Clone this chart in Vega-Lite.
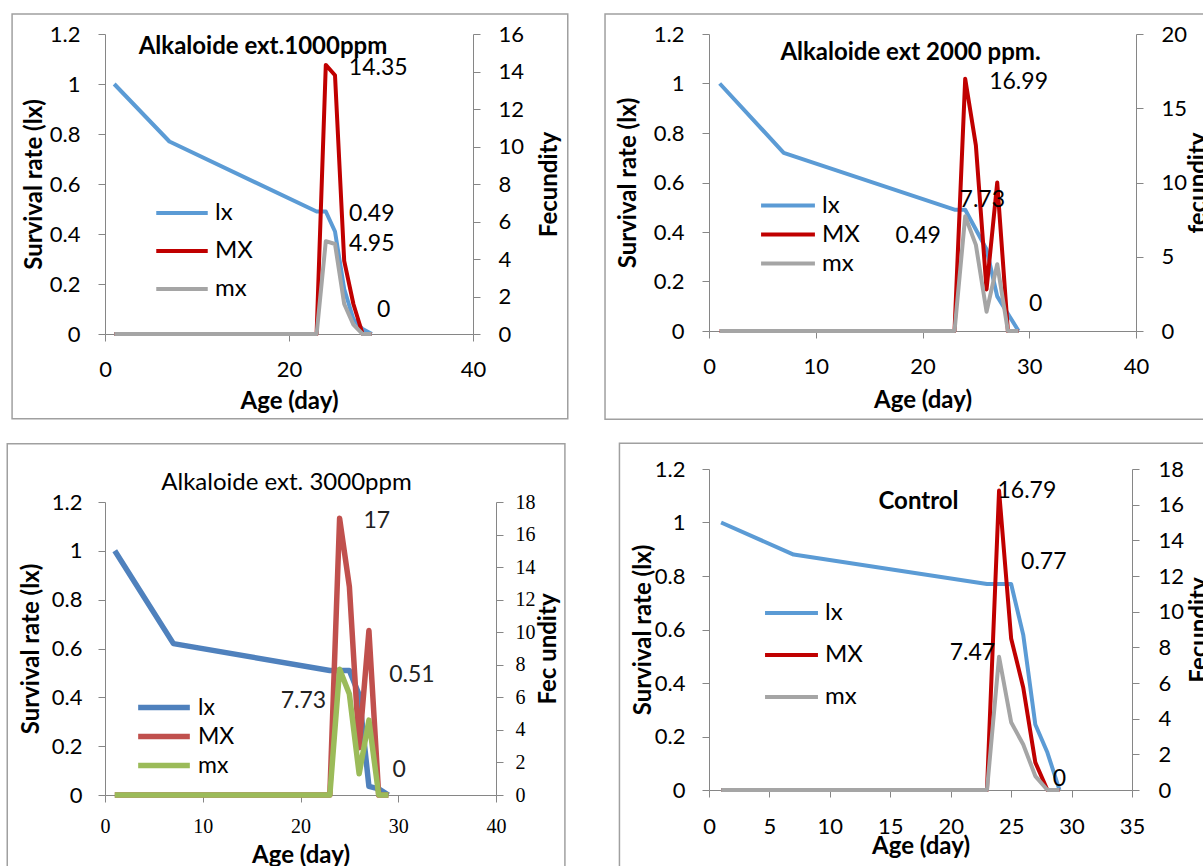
{
  "$schema": "https://vega.github.io/schema/vega-lite/v6.json",
  "padding": {"left": 6, "top": 13, "right": 0, "bottom": 0},
  "background": "white",
  "config": {
    "view": {"stroke": null},
    "axis": {"domainColor": "#868686", "tickColor": "#868686", "tickSize": 7, "grid": false, "labelColor": "#000", "labelFont": "Lato", "labelFontSize": 22, "titleFont": "Lato", "titleFontSize": 24, "titleFontWeight": "bold", "titleColor": "#000", "labelFlush": false, "labelOverlap": false},
    "text": {"font": "Lato", "fontSize": 23, "color": "#000"},
    "title": {"font": "Lato", "fontSize": 24, "fontWeight": "bold", "color": "#000"},
    "legend": {"orient": "none", "symbolType": "stroke", "title": null, "labelFont": "Lato", "labelFontSize": 24, "labelColor": "#000", "labelOffset": 5, "rowPadding": 0}
  },
  "datasets": {
    "one": [{}],
    "p1": [
      {"d": 1, "s": "lx", "v": 1}, {"d": 7, "s": "lx", "v": 0.77}, {"d": 23, "s": "lx", "v": 0.49}, {"d": 24, "s": "lx", "v": 0.49}, {"d": 25, "s": "lx", "v": 0.41}, {"d": 26, "s": "lx", "v": 0.18}, {"d": 27, "s": "lx", "v": 0.06}, {"d": 28, "s": "lx", "v": 0.02}, {"d": 29, "s": "lx", "v": 0},
      {"d": 1, "s": "MX", "v": 0}, {"d": 7, "s": "MX", "v": 0}, {"d": 23, "s": "MX", "v": 0}, {"d": 24, "s": "MX", "v": 14.35}, {"d": 25, "s": "MX", "v": 13.8}, {"d": 26, "s": "MX", "v": 3.9}, {"d": 27, "s": "MX", "v": 1.6}, {"d": 28, "s": "MX", "v": 0}, {"d": 29, "s": "MX", "v": 0},
      {"d": 1, "s": "mx", "v": 0}, {"d": 7, "s": "mx", "v": 0}, {"d": 23, "s": "mx", "v": 0}, {"d": 24, "s": "mx", "v": 4.95}, {"d": 25, "s": "mx", "v": 4.8}, {"d": 26, "s": "mx", "v": 1.6}, {"d": 27, "s": "mx", "v": 0.5}, {"d": 28, "s": "mx", "v": 0}, {"d": 29, "s": "mx", "v": 0},
      {"d": 29.0, "s": "L", "v": 0.48, "t": "0.49"},
      {"d": 29.7, "s": "R", "v": 14.2, "t": "14.35"}, {"d": 29.0, "s": "R", "v": 4.8, "t": "4.95"}, {"d": 30.3, "s": "R", "v": 1.3, "t": "0"}
    ],
    "p2": [
      {"d": 1, "s": "lx", "v": 1}, {"d": 7, "s": "lx", "v": 0.72}, {"d": 23, "s": "lx", "v": 0.49}, {"d": 24, "s": "lx", "v": 0.49}, {"d": 25, "s": "lx", "v": 0.41}, {"d": 26, "s": "lx", "v": 0.33}, {"d": 27, "s": "lx", "v": 0.14}, {"d": 28, "s": "lx", "v": 0.07}, {"d": 29, "s": "lx", "v": 0},
      {"d": 1, "s": "MX", "v": 0}, {"d": 7, "s": "MX", "v": 0}, {"d": 23, "s": "MX", "v": 0}, {"d": 24, "s": "MX", "v": 16.99}, {"d": 25, "s": "MX", "v": 12.5}, {"d": 26, "s": "MX", "v": 2.8}, {"d": 27, "s": "MX", "v": 10}, {"d": 28, "s": "MX", "v": 0}, {"d": 29, "s": "MX", "v": 0},
      {"d": 1, "s": "mx", "v": 0}, {"d": 7, "s": "mx", "v": 0}, {"d": 23, "s": "mx", "v": 0}, {"d": 24, "s": "mx", "v": 7.73}, {"d": 25, "s": "mx", "v": 5.8}, {"d": 26, "s": "mx", "v": 1.3}, {"d": 27, "s": "mx", "v": 4.5}, {"d": 28, "s": "mx", "v": 0}, {"d": 29, "s": "mx", "v": 0},
      {"d": 19.6, "s": "L", "v": 0.385, "t": "0.49"},
      {"d": 29.0, "s": "R", "v": 16.8, "t": "16.99"}, {"d": 25.6, "s": "R", "v": 8.8, "t": "7.73"}, {"d": 30.6, "s": "R", "v": 1.8, "t": "0"}
    ],
    "p3": [
      {"d": 1, "s": "lx", "v": 1}, {"d": 7, "s": "lx", "v": 0.62}, {"d": 23, "s": "lx", "v": 0.51}, {"d": 24, "s": "lx", "v": 0.51}, {"d": 25, "s": "lx", "v": 0.51}, {"d": 26, "s": "lx", "v": 0.41}, {"d": 27, "s": "lx", "v": 0.035}, {"d": 28, "s": "lx", "v": 0.025}, {"d": 29, "s": "lx", "v": 0},
      {"d": 1, "s": "MX", "v": 0}, {"d": 7, "s": "MX", "v": 0}, {"d": 23, "s": "MX", "v": 0}, {"d": 24, "s": "MX", "v": 17}, {"d": 25, "s": "MX", "v": 12.8}, {"d": 26, "s": "MX", "v": 2.9}, {"d": 27, "s": "MX", "v": 10.1}, {"d": 28, "s": "MX", "v": 0}, {"d": 29, "s": "MX", "v": 0},
      {"d": 1, "s": "mx", "v": 0}, {"d": 7, "s": "mx", "v": 0}, {"d": 23, "s": "mx", "v": 0}, {"d": 24, "s": "mx", "v": 7.73}, {"d": 25, "s": "mx", "v": 6.2}, {"d": 26, "s": "mx", "v": 1.3}, {"d": 27, "s": "mx", "v": 4.6}, {"d": 28, "s": "mx", "v": 0}, {"d": 29, "s": "mx", "v": 0},
      {"d": 31.4, "s": "L", "v": 0.49, "t": "0.51"},
      {"d": 27.8, "s": "R", "v": 16.85, "t": "17"}, {"d": 20.3, "s": "R", "v": 5.8, "t": "7.73"}, {"d": 30.1, "s": "R", "v": 1.52, "t": "0"}
    ],
    "p4": [
      {"d": 1, "s": "lx", "v": 1}, {"d": 7, "s": "lx", "v": 0.88}, {"d": 23, "s": "lx", "v": 0.77}, {"d": 24, "s": "lx", "v": 0.77}, {"d": 25, "s": "lx", "v": 0.77}, {"d": 26, "s": "lx", "v": 0.58}, {"d": 27, "s": "lx", "v": 0.245}, {"d": 28, "s": "lx", "v": 0.14}, {"d": 29, "s": "lx", "v": 0},
      {"d": 1, "s": "MX", "v": 0}, {"d": 7, "s": "MX", "v": 0}, {"d": 23, "s": "MX", "v": 0}, {"d": 24, "s": "MX", "v": 16.79}, {"d": 25, "s": "MX", "v": 8.5}, {"d": 26, "s": "MX", "v": 5.75}, {"d": 27, "s": "MX", "v": 1.55}, {"d": 28, "s": "MX", "v": 0}, {"d": 29, "s": "MX", "v": 0},
      {"d": 1, "s": "mx", "v": 0}, {"d": 7, "s": "mx", "v": 0}, {"d": 23, "s": "mx", "v": 0}, {"d": 24, "s": "mx", "v": 7.47}, {"d": 25, "s": "mx", "v": 3.8}, {"d": 26, "s": "mx", "v": 2.55}, {"d": 27, "s": "mx", "v": 0.78}, {"d": 28, "s": "mx", "v": 0}, {"d": 29, "s": "mx", "v": 0},
      {"d": 27.7, "s": "L", "v": 0.853, "t": "0.77"},
      {"d": 26.3, "s": "R", "v": 16.78, "t": "16.79"}, {"d": 21.8, "s": "R", "v": 7.7, "t": "7.47"}, {"d": 29.0, "s": "R", "v": 0.64, "t": "0"}
    ]
  },
  "hconcat": [
    {
      "vconcat": [
        {
          "width": 368, "height": 300,
          "title": {"text": "Alkaloide ext.1000ppm", "frame": "group", "anchor": "middle", "dx": -26, "dy": 46, "offset": -12, "baseline": "middle"},
          "data": {"name": "p1"},
          "layer": [
            {
              "layer": [
                {
                  "data": {"name": "one"},
                  "mark": {"type": "rect", "filled": false, "stroke": "#a0a0a0", "strokeWidth": 1.5},
                  "encoding": {
                    "x": {"datum": -10.1, "type": "quantitative", "axis": {"title": "Age (day)", "values": [0, 20, 40], "labelPadding": 18, "titlePadding": 9}},
                    "x2": {"datum": 50.3},
                    "y": {"datum": 1.28, "type": "quantitative", "axis": {"title": "Survival rate (lx)", "values": [0, 0.2, 0.4, 0.6, 0.8, 1, 1.2], "format": "~g", "labelPadding": 18, "titlePadding": 3}},
                    "y2": {"datum": -0.339}
                  }
                },
                {
                  "transform": [{"filter": "datum.s === 'lx'"}],
                  "mark": {"type": "line", "strokeWidth": 4, "strokeJoin": "round"},
                  "encoding": {
                    "x": {"field": "d", "type": "quantitative", "scale": {"domain": [0, 40], "nice": false}, "axis": {"title": "Age (day)", "values": [0, 20, 40], "labelPadding": 18, "titlePadding": 9}},
                    "y": {"field": "v", "type": "quantitative", "scale": {"domain": [0, 1.2], "nice": false}, "axis": {"title": "Survival rate (lx)", "values": [0, 0.2, 0.4, 0.6, 0.8, 1, 1.2], "format": "~g", "labelPadding": 18, "titlePadding": 3}},
                    "color": {"field": "s", "type": "nominal", "scale": {"domain": ["lx", "MX", "mx"], "range": ["#5B9BD5", "#C00000", "#A5A5A5"]}, "legend": {"legendX": 49, "legendY": 160, "symbolSize": 2650, "symbolStrokeWidth": 4, "clipHeight": 38}}
                  }
                },
                {
                  "transform": [{"filter": "datum.s === 'L'"}],
                  "mark": {"type": "text"},
                  "encoding": {
                    "x": {"field": "d", "type": "quantitative", "axis": {"title": "Age (day)", "values": [0, 20, 40], "labelPadding": 18, "titlePadding": 9}},
                    "y": {"field": "v", "type": "quantitative", "axis": {"title": "Survival rate (lx)", "values": [0, 0.2, 0.4, 0.6, 0.8, 1, 1.2], "format": "~g", "labelPadding": 18, "titlePadding": 3}},
                    "text": {"field": "t"}
                  }
                }
              ]
            },
            {
              "layer": [
                {
                  "transform": [{"filter": "datum.s === 'MX' || datum.s === 'mx'"}],
                  "mark": {"type": "line", "strokeWidth": 4, "strokeJoin": "round"},
                  "encoding": {
                    "x": {"field": "d", "type": "quantitative", "axis": {"title": "Age (day)", "values": [0, 20, 40], "labelPadding": 18, "titlePadding": 9}},
                    "y": {"field": "v", "type": "quantitative", "scale": {"domain": [0, 16], "nice": false}, "axis": {"orient": "right", "title": "Fecundity", "values": [0, 2, 4, 6, 8, 10, 12, 14, 16], "labelPadding": 18, "titlePadding": 14, "titleAngle": 270, "titleBaseline": "top"}},
                    "color": {"field": "s", "type": "nominal"}
                  }
                },
                {
                  "transform": [{"filter": "datum.s === 'R'"}],
                  "mark": {"type": "text"},
                  "encoding": {
                    "x": {"field": "d", "type": "quantitative", "axis": {"title": "Age (day)", "values": [0, 20, 40], "labelPadding": 18, "titlePadding": 9}},
                    "y": {"field": "v", "type": "quantitative", "axis": {"orient": "right", "title": "Fecundity", "values": [0, 2, 4, 6, 8, 10, 12, 14, 16], "labelPadding": 18, "titlePadding": 14, "titleAngle": 270, "titleBaseline": "top"}},
                    "text": {"field": "t"}
                  }
                }
              ]
            }
          ],
          "resolve": {"scale": {"y": "independent"}}
        },
        {
          "width": 391, "height": 293,
          "title": {"text": "Alkaloide ext. 3000ppm", "frame": "group", "anchor": "middle", "dx": -14, "dy": 64, "offset": 12, "fontWeight": "normal", "fontSize": 24},
          "data": {"name": "p3"},
          "layer": [
            {
              "layer": [
                {
                  "data": {"name": "one"},
                  "mark": {"type": "rect", "filled": false, "stroke": "#a0a0a0", "strokeWidth": 1.5},
                  "encoding": {
                    "x": {"datum": -10.0, "type": "quantitative", "axis": {"title": "Age (day)", "values": [0, 10, 20, 30, 40], "labelPadding": 14, "titlePadding": 7, "labelFont": "Liberation Serif", "labelFontSize": 20}},
                    "x2": {"datum": 47.05},
                    "y": {"datum": 1.439, "type": "quantitative", "axis": {"title": "Survival rate (lx)", "values": [0, 0.2, 0.4, 0.6, 0.8, 1, 1.2], "format": "~g", "labelPadding": 16, "titlePadding": 8}},
                    "y2": {"datum": -0.31}
                  }
                },
                {
                  "transform": [{"filter": "datum.s === 'lx'"}],
                  "mark": {"type": "line", "strokeWidth": 5.5, "strokeJoin": "round"},
                  "encoding": {
                    "x": {"field": "d", "type": "quantitative", "scale": {"domain": [0, 40], "nice": false}, "axis": {"title": "Age (day)", "values": [0, 10, 20, 30, 40], "labelPadding": 14, "titlePadding": 7, "labelFont": "Liberation Serif", "labelFontSize": 20}},
                    "y": {"field": "v", "type": "quantitative", "scale": {"domain": [0, 1.2], "nice": false}, "axis": {"title": "Survival rate (lx)", "values": [0, 0.2, 0.4, 0.6, 0.8, 1, 1.2], "format": "~g", "labelPadding": 16, "titlePadding": 8}},
                    "color": {"field": "s", "type": "nominal", "scale": {"domain": ["lx", "MX", "mx"], "range": ["#4F81BD", "#C0504D", "#9BBB59"]}, "legend": {"legendX": 30, "legendY": 191, "symbolSize": 2670, "symbolStrokeWidth": 5.5, "clipHeight": 29, "labelFontSize": 23}}
                  }
                },
                {
                  "transform": [{"filter": "datum.s === 'L'"}],
                  "mark": {"type": "text", "color": "#222"},
                  "encoding": {
                    "x": {"field": "d", "type": "quantitative", "axis": {"title": "Age (day)", "values": [0, 10, 20, 30, 40], "labelPadding": 14, "titlePadding": 7, "labelFont": "Liberation Serif", "labelFontSize": 20}},
                    "y": {"field": "v", "type": "quantitative", "axis": {"title": "Survival rate (lx)", "values": [0, 0.2, 0.4, 0.6, 0.8, 1, 1.2], "format": "~g", "labelPadding": 16, "titlePadding": 8}},
                    "text": {"field": "t"}
                  }
                }
              ]
            },
            {
              "layer": [
                {
                  "transform": [{"filter": "datum.s === 'MX' || datum.s === 'mx'"}],
                  "mark": {"type": "line", "strokeWidth": 5.5, "strokeJoin": "round"},
                  "encoding": {
                    "x": {"field": "d", "type": "quantitative", "axis": {"title": "Age (day)", "values": [0, 10, 20, 30, 40], "labelPadding": 14, "titlePadding": 7, "labelFont": "Liberation Serif", "labelFontSize": 20}},
                    "y": {"field": "v", "type": "quantitative", "scale": {"domain": [0, 18], "nice": false}, "axis": {"orient": "right", "title": "Fec undity", "values": [0, 2, 4, 6, 8, 10, 12, 14, 16, 18], "labelPadding": 12, "titlePadding": 1, "titleAngle": 270, "titleBaseline": "top", "labelFont": "Liberation Serif", "labelFontSize": 20}},
                    "color": {"field": "s", "type": "nominal"}
                  }
                },
                {
                  "transform": [{"filter": "datum.s === 'R'"}],
                  "mark": {"type": "text", "color": "#222"},
                  "encoding": {
                    "x": {"field": "d", "type": "quantitative", "axis": {"title": "Age (day)", "values": [0, 10, 20, 30, 40], "labelPadding": 14, "titlePadding": 7, "labelFont": "Liberation Serif", "labelFontSize": 20}},
                    "y": {"field": "v", "type": "quantitative", "axis": {"orient": "right", "title": "Fec undity", "values": [0, 2, 4, 6, 8, 10, 12, 14, 16, 18], "labelPadding": 12, "titlePadding": 1, "titleAngle": 270, "titleBaseline": "top", "labelFont": "Liberation Serif", "labelFontSize": 20}},
                    "text": {"field": "t"}
                  }
                }
              ]
            }
          ],
          "resolve": {"scale": {"y": "independent"}}
        }
      ],
      "spacing": 22,
      "resolve": {"scale": {"x": "independent", "y": "independent", "color": "independent"}}
    },
    {
      "vconcat": [
        {
          "width": 427, "height": 297,
          "title": {"text": "Alkaloide ext 2000 ppm.", "frame": "group", "anchor": "middle", "dx": -12, "dy": 52, "offset": -12, "baseline": "middle"},
          "data": {"name": "p2"},
          "layer": [
            {
              "layer": [
                {
                  "data": {"name": "one"},
                  "mark": {"type": "rect", "filled": false, "stroke": "#a0a0a0", "strokeWidth": 1.5},
                  "encoding": {
                    "x": {"datum": -9.74, "type": "quantitative", "axis": {"title": "Age (day)", "values": [0, 10, 20, 30, 40], "labelPadding": 18, "titlePadding": 11}},
                    "x2": {"datum": 46.9},
                    "y": {"datum": 1.281, "type": "quantitative", "axis": {"title": "Survival rate (lx)", "values": [0, 0.2, 0.4, 0.6, 0.8, 1, 1.2], "format": "~g", "labelPadding": 18, "titlePadding": 13}},
                    "y2": {"datum": -0.357}
                  }
                },
                {
                  "transform": [{"filter": "datum.s === 'lx'"}],
                  "mark": {"type": "line", "strokeWidth": 4, "strokeJoin": "round"},
                  "encoding": {
                    "x": {"field": "d", "type": "quantitative", "scale": {"domain": [0, 40], "nice": false}, "axis": {"title": "Age (day)", "values": [0, 10, 20, 30, 40], "labelPadding": 18, "titlePadding": 11}},
                    "y": {"field": "v", "type": "quantitative", "scale": {"domain": [0, 1.2], "nice": false}, "axis": {"title": "Survival rate (lx)", "values": [0, 0.2, 0.4, 0.6, 0.8, 1, 1.2], "format": "~g", "labelPadding": 18, "titlePadding": 13}},
                    "color": {"field": "s", "type": "nominal", "scale": {"domain": ["lx", "MX", "mx"], "range": ["#5B9BD5", "#C00000", "#A5A5A5"]}, "legend": {"legendX": 50, "legendY": 157, "symbolSize": 2900, "symbolStrokeWidth": 4, "clipHeight": 29}}
                  }
                },
                {
                  "transform": [{"filter": "datum.s === 'L'"}],
                  "mark": {"type": "text"},
                  "encoding": {
                    "x": {"field": "d", "type": "quantitative", "axis": {"title": "Age (day)", "values": [0, 10, 20, 30, 40], "labelPadding": 18, "titlePadding": 11}},
                    "y": {"field": "v", "type": "quantitative", "axis": {"title": "Survival rate (lx)", "values": [0, 0.2, 0.4, 0.6, 0.8, 1, 1.2], "format": "~g", "labelPadding": 18, "titlePadding": 13}},
                    "text": {"field": "t"}
                  }
                }
              ]
            },
            {
              "layer": [
                {
                  "transform": [{"filter": "datum.s === 'MX' || datum.s === 'mx'"}],
                  "mark": {"type": "line", "strokeWidth": 4, "strokeJoin": "round"},
                  "encoding": {
                    "x": {"field": "d", "type": "quantitative", "axis": {"title": "Age (day)", "values": [0, 10, 20, 30, 40], "labelPadding": 18, "titlePadding": 11}},
                    "y": {"field": "v", "type": "quantitative", "scale": {"domain": [0, 20], "nice": false}, "axis": {"orient": "right", "title": "fecundity", "values": [0, 5, 10, 15, 20], "labelPadding": 18, "titlePadding": 0, "titleAngle": 270, "titleBaseline": "top"}},
                    "color": {"field": "s", "type": "nominal"}
                  }
                },
                {
                  "transform": [{"filter": "datum.s === 'R'"}],
                  "mark": {"type": "text"},
                  "encoding": {
                    "x": {"field": "d", "type": "quantitative", "axis": {"title": "Age (day)", "values": [0, 10, 20, 30, 40], "labelPadding": 18, "titlePadding": 11}},
                    "y": {"field": "v", "type": "quantitative", "axis": {"orient": "right", "title": "fecundity", "values": [0, 5, 10, 15, 20], "labelPadding": 18, "titlePadding": 0, "titleAngle": 270, "titleBaseline": "top"}},
                    "text": {"field": "t"}
                  }
                }
              ]
            }
          ],
          "resolve": {"scale": {"y": "independent"}}
        },
        {
          "width": 423, "height": 321,
          "title": {"text": "Control", "frame": "group", "anchor": "middle", "dx": -2, "dy": 71, "offset": -12, "baseline": "middle"},
          "data": {"name": "p4"},
          "layer": [
            {
              "layer": [
                {
                  "data": {"name": "one"},
                  "mark": {"type": "rect", "filled": false, "stroke": "#a0a0a0", "strokeWidth": 1.5},
                  "encoding": {
                    "x": {"datum": -7.41, "type": "quantitative", "axis": {"title": "Age (day)", "values": [0, 5, 10, 15, 20, 25, 30, 35], "labelPadding": 19, "titlePadding": -3}},
                    "x2": {"datum": 41.45},
                    "y": {"datum": 1.296, "type": "quantitative", "axis": {"title": "Survival rate (lx)", "values": [0, 0.2, 0.4, 0.6, 0.8, 1, 1.2], "format": "~g", "labelPadding": 17, "titlePadding": -1}},
                    "y2": {"datum": -0.302}
                  }
                },
                {
                  "transform": [{"filter": "datum.s === 'lx'"}],
                  "mark": {"type": "line", "strokeWidth": 4, "strokeJoin": "round"},
                  "encoding": {
                    "x": {"field": "d", "type": "quantitative", "scale": {"domain": [0, 35], "nice": false}, "axis": {"title": "Age (day)", "values": [0, 5, 10, 15, 20, 25, 30, 35], "labelPadding": 19, "titlePadding": -3}},
                    "y": {"field": "v", "type": "quantitative", "scale": {"domain": [0, 1.2], "nice": false}, "axis": {"title": "Survival rate (lx)", "values": [0, 0.2, 0.4, 0.6, 0.8, 1, 1.2], "format": "~g", "labelPadding": 17, "titlePadding": -1}},
                    "color": {"field": "s", "type": "nominal", "scale": {"domain": ["lx", "MX", "mx"], "range": ["#5B9BD5", "#C00000", "#A5A5A5"]}, "legend": {"legendX": 54, "legendY": 123, "symbolSize": 2800, "symbolStrokeWidth": 4, "clipHeight": 42}}
                  }
                },
                {
                  "transform": [{"filter": "datum.s === 'L'"}],
                  "mark": {"type": "text"},
                  "encoding": {
                    "x": {"field": "d", "type": "quantitative", "axis": {"title": "Age (day)", "values": [0, 5, 10, 15, 20, 25, 30, 35], "labelPadding": 19, "titlePadding": -3}},
                    "y": {"field": "v", "type": "quantitative", "axis": {"title": "Survival rate (lx)", "values": [0, 0.2, 0.4, 0.6, 0.8, 1, 1.2], "format": "~g", "labelPadding": 17, "titlePadding": -1}},
                    "text": {"field": "t"}
                  }
                }
              ]
            },
            {
              "layer": [
                {
                  "transform": [{"filter": "datum.s === 'MX' || datum.s === 'mx'"}],
                  "mark": {"type": "line", "strokeWidth": 4, "strokeJoin": "round"},
                  "encoding": {
                    "x": {"field": "d", "type": "quantitative", "axis": {"title": "Age (day)", "values": [0, 5, 10, 15, 20, 25, 30, 35], "labelPadding": 19, "titlePadding": -3}},
                    "y": {"field": "v", "type": "quantitative", "scale": {"domain": [0, 18], "nice": false}, "axis": {"orient": "right", "title": "Fecundity", "values": [0, 2, 4, 6, 8, 10, 12, 14, 16, 18], "labelPadding": 19, "titlePadding": 4, "titleAngle": 270, "titleBaseline": "top"}},
                    "color": {"field": "s", "type": "nominal"}
                  }
                },
                {
                  "transform": [{"filter": "datum.s === 'R'"}],
                  "mark": {"type": "text"},
                  "encoding": {
                    "x": {"field": "d", "type": "quantitative", "axis": {"title": "Age (day)", "values": [0, 5, 10, 15, 20, 25, 30, 35], "labelPadding": 19, "titlePadding": -3}},
                    "y": {"field": "v", "type": "quantitative", "axis": {"orient": "right", "title": "Fecundity", "values": [0, 2, 4, 6, 8, 10, 12, 14, 16, 18], "labelPadding": 19, "titlePadding": 4, "titleAngle": 270, "titleBaseline": "top"}},
                    "text": {"field": "t"}
                  }
                }
              ]
            }
          ],
          "resolve": {"scale": {"y": "independent"}}
        }
      ],
      "spacing": 21,
      "resolve": {"scale": {"x": "independent", "y": "independent", "color": "independent"}}
    }
  ],
  "spacing": 35,
  "resolve": {"scale": {"x": "independent", "y": "independent", "color": "independent"}}
}
